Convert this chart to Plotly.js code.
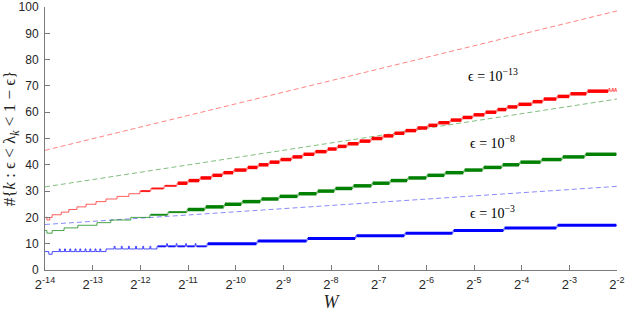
<!DOCTYPE html>
<html><head><meta charset="utf-8">
<script src="https://cdn.plot.ly/plotly-3.0.1.min.js"></script>
<style>html,body{margin:0;padding:0;background:#fff}#chart{width:625px;height:313px}</style>
</head><body><div id="chart"></div>
<script>
// ---- data (log2 W where each count level begins, and the count level) ----
const redExp = [-14.00,-13.96,-13.90,-13.85,-13.66,-13.50,-13.33,-13.14,-12.93,-12.72,-12.49,-12.24,-12.01,-11.78,-11.50,-11.23,-11.00,-10.75,-10.50,-10.27,-10.04,-9.76,-9.53,-9.30,-9.07,-8.82,-8.59,-8.34,-8.08,-7.87,-7.66,-7.41,-7.16,-6.91,-6.68,-6.45,-6.20,-5.97,-5.76,-5.50,-5.25,-5.02,-4.77,-4.52,-4.31,-4.08,-3.78,-3.55,-3.26,-2.99,-2.63,-2.17,-2.15,-2.10,-2.08,-2.04,-2.02];
const redLevel = [20,19,20,21,22,23,24,25,26,27,28,29,30,31,32,33,34,35,36,37,38,39,40,41,42,43,44,45,46,47,48,49,50,51,52,53,54,55,56,57,58,59,60,61,62,63,64,65,66,67,68,69,68,69,68,69,68];

const greenExp = [-14.00,-13.96,-13.85,-13.60,-13.31,-12.91,-12.62,-12.20,-11.80,-11.42,-11.02,-10.64,-10.24,-9.87,-9.47,-9.09,-8.69,-8.29,-7.92,-7.54,-7.14,-6.76,-6.39,-5.99,-5.61,-5.21,-4.81,-4.41,-4.04,-3.59,-3.15,-2.67];
const greenLevel = [15,14,15,16,17,18,19,20,21,22,23,24,25,26,27,28,29,30,31,32,33,34,35,36,37,38,39,40,41,42,43,44];

const blueExp = [-14.00,-13.92,-13.85,-13.70,-13.68,-13.59,-13.57,-13.48,-13.46,-13.37,-13.35,-13.27,-13.25,-13.16,-13.14,-13.06,-13.04,-12.95,-12.93,-12.85,-12.83,-12.72,-12.55,-12.53,-12.40,-12.38,-12.25,-12.23,-12.10,-12.08,-11.95,-11.93,-11.80,-11.78,-11.65,-11.45,-11.43,-11.25,-11.23,-11.05,-11.03,-10.85,-10.83,-10.60,-9.55,-8.50,-7.48,-6.45,-5.44,-4.37,-3.26];
const blueLevel = [7,6,7,8,7,8,7,8,7,8,7,8,7,8,7,8,7,8,7,8,7,8,9,8,9,8,9,8,9,8,9,8,9,8,9,10,9,10,9,10,9,10,9,10,11,12,13,14,15,16,17];

const seriesEnd = -2;

// dashed reference lines (end points)
const dashExp = [-14, -2];
const redDash = [45.5, 98.5];
const greenDash = [31.6, 65.0];
const blueDash = [17.3, 31.8];

// ticks
const xTickExp = [-14,-13,-12,-11,-10,-9,-8,-7,-6,-5,-4,-3,-2];
const xTickText = xTickExp.map(e => '2<sup>' + e + '</sup>');
const yTickVals = [0,10,20,30,40,50,60,70,80,90,100];

const epsLabels = ['ϵ = 10<sup>−13</sup>', 'ϵ = 10<sup>−8</sup>', 'ϵ = 10<sup>−3</sup>'];

// ---- helpers ----
const p2 = e => Math.pow(2, e);
function stairs(exps, levels, end) {
  const x = [], y = [];
  for (let i = 0; i < exps.length; i++) { x.push(p2(exps[i])); y.push(levels[i]); }
  x.push(p2(end)); y.push(levels[levels.length - 1]);
  return {x, y};
}
function bands(exps, levels, end, from, to, minLen, gap) {
  const x = [], y = [];
  for (let i = 0; i < exps.length; i++) {
    const a = exps[i], b = (i + 1 < exps.length) ? exps[i + 1] : end;
    if (a < from || a >= to) continue;
    if (b - a < minLen) continue;
    x.push(p2(a + gap), p2(b - gap), null);
    y.push(levels[i], levels[i], null);
  }
  return {x, y};
}

const traces = [];
function dash(vals, color) {
  traces.push({x: dashExp.map(p2), y: vals, mode: 'lines', type: 'scatter',
    line: {color: color, width: 1, dash: '5px,3px'}, hoverinfo: 'skip'});
}
dash(redDash, '#ff8585');
dash(greenDash, '#7fbf7f');
dash(blueDash, '#8a8aff');

function series(exps, levels, thin, solid, medFrom, thickFrom, w) {
  const s = stairs(exps, levels, seriesEnd);
  traces.push({x: s.x, y: s.y, mode: 'lines', type: 'scatter',
    line: {color: thin, width: 1, shape: 'hv'}, hoverinfo: 'skip'});
  const m = bands(exps, levels, seriesEnd, medFrom, thickFrom, 0.08, 0.015);
  traces.push({x: m.x, y: m.y, mode: 'lines', type: 'scatter',
    line: {color: solid, width: 2}, opacity: 0.8, hoverinfo: 'skip'});
  const t = bands(exps, levels, seriesEnd, thickFrom, 100, 0.08, 0.015);
  traces.push({x: t.x, y: t.y, mode: 'lines', type: 'scatter',
    line: {color: solid, width: w}, hoverinfo: 'skip'});
}
series(redExp, redLevel, 'rgba(255,40,40,0.75)', '#ff0000', -12.02, -11.25, 3.5);
series(greenExp, greenLevel, 'rgba(0,128,0,0.7)', '#008000', -11.82, -11.05, 3.5);
series(blueExp, blueLevel, 'rgba(0,0,255,0.7)', '#0000ff', -11.66, -10.62, 3);

const L2 = Math.log10(2);
const axisCol = '#7a7a7a';

const layout = {
  width: 625, height: 313,
  margin: {l: 45, r: 8, t: 7, b: 43, pad: 0},
  paper_bgcolor: '#ffffff', plot_bgcolor: '#ffffff',
  showlegend: false,
  xaxis: {
    type: 'log', range: [-14 * L2, -2 * L2],
    tickmode: 'array', tickvals: xTickExp.map(p2), ticktext: xTickText,
    ticks: 'inside', ticklen: 5, tickcolor: axisCol, tickwidth: 1,
    showline: true, linecolor: axisCol, linewidth: 1,
    showgrid: false, zeroline: false, ticklabelstandoff: 2,
    tickfont: {family: 'Liberation Sans, Arial, sans-serif', size: 13, color: '#262626'},
    title: {text: '<i>W</i>', font: {family: 'Liberation Serif, serif', size: 18, color: '#262626'}, standoff: 3}
  },
  yaxis: {
    range: [0, 100], tickmode: 'array', tickvals: yTickVals,
    ticks: 'inside', ticklen: 5, tickcolor: axisCol, tickwidth: 1,
    showline: true, linecolor: axisCol, linewidth: 1,
    showgrid: false, zeroline: false,
    tickfont: {family: 'Liberation Sans, Arial, sans-serif', size: 12, color: '#262626'}, ticklabelstandoff: 3,
    title: {text: '#{<i>k</i> : ϵ < λ<sub><i>k</i></sub> < 1 − ϵ}', font: {family: 'Liberation Serif, serif', size: 17, color: '#262626'}, standoff: 3}
  },
  annotations: [
    {text: epsLabels[0], xref: 'paper', yref: 'y', x: 0.830, y: 74.3, showarrow: false, font: {family: 'Liberation Serif, serif', size: 14, color: '#000'}},
    {text: epsLabels[1], xref: 'paper', yref: 'y', x: 0.826, y: 48.5, showarrow: false, font: {family: 'Liberation Serif, serif', size: 14, color: '#000'}},
    {text: epsLabels[2], xref: 'paper', yref: 'y', x: 0.826, y: 21.9, showarrow: false, font: {family: 'Liberation Serif, serif', size: 14, color: '#000'}}
  ]
};

Plotly.newPlot('chart', traces, layout, {staticPlot: true, displayModeBar: false});
</script>
</body></html>
